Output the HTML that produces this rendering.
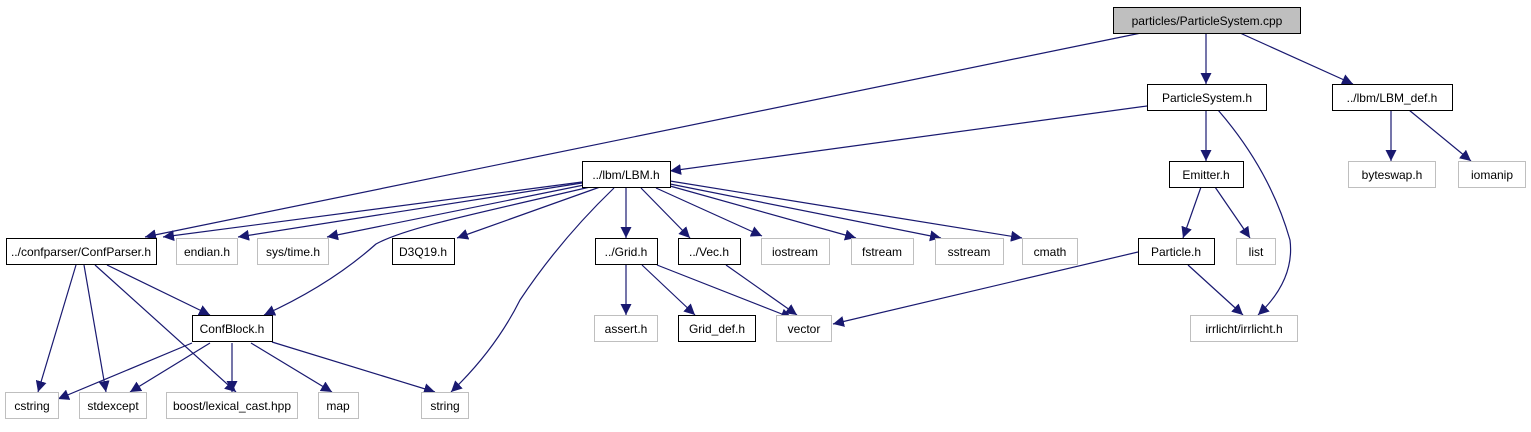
<!DOCTYPE html>
<html><head><meta charset="utf-8"><style>
html,body{margin:0;padding:0;background:#fff;}
svg text{font-family:"Liberation Sans",sans-serif;font-size:12px;text-anchor:middle;}
</style></head><body>
<svg width="1531" height="427" viewBox="0 0 1531 427" xmlns="http://www.w3.org/2000/svg">
<defs><marker id="a" viewBox="0 0 10 10" refX="10" refY="5" markerWidth="11" markerHeight="11" markerUnits="userSpaceOnUse" orient="auto"><path d="M0,0L10,5L0,10z" fill="#191970"/></marker></defs>
<g fill="none" stroke="#191970" stroke-width="1.2" marker-end="url(#a)">
<path d="M1141,33 L145,237"/>
<path d="M1206,33 L1206,84"/>
<path d="M1240,33 L1353,84"/>
<path d="M1147,106 L670,171"/>
<path d="M1206,110 L1206,161"/>
<path d="M1218,110 Q1270,170 1290,240 Q1295,280 1258,315"/>
<path d="M1391,110 L1391,161"/>
<path d="M1409,110 L1471,161"/>
<path d="M1201,187 L1183,238"/>
<path d="M1215,187 L1250,238"/>
<path d="M582,182 L163,237"/>
<path d="M582,183 L238,237"/>
<path d="M584,185 L327,237"/>
<path d="M590,187 C470,215 405,228 376,244 Q330,285 264,315"/>
<path d="M600,187 L457,238"/>
<path d="M614,188 Q560,240 520,300 Q495,350 451,392"/>
<path d="M626,188 L626,238"/>
<path d="M641,188 L690,238"/>
<path d="M656,188 L762,236"/>
<path d="M670,186 L856,238"/>
<path d="M670,184 L941,238"/>
<path d="M670,181 L1022,238"/>
<path d="M1138,252 L833,324"/>
<path d="M1188,265 L1243,315"/>
<path d="M626,265 L626,315"/>
<path d="M642,265 L695,315"/>
<path d="M657,265 L792,318"/>
<path d="M726,265 L797,315"/>
<path d="M76,265 L38,392"/>
<path d="M84,265 L106,392"/>
<path d="M95,265 L236,392"/>
<path d="M107,265 L210,315"/>
<path d="M192,343 L58,399"/>
<path d="M210,343 L130,392"/>
<path d="M232,343 L232,392"/>
<path d="M251,343 L332,392"/>
<path d="M272,342 L435,392"/>
</g>
<g stroke-width="1">
<rect x="1113.5" y="7.5" width="187" height="26" fill="#bfbfbf" stroke="#000"/><text x="1207" y="25">particles/ParticleSystem.cpp</text>
<rect x="1147.5" y="84.5" width="119" height="26" fill="#fff" stroke="#000"/><text x="1207" y="102">ParticleSystem.h</text>
<rect x="1332.5" y="84.5" width="120" height="26" fill="#fff" stroke="#000"/><text x="1392" y="102">../lbm/LBM_def.h</text>
<rect x="1169.5" y="161.5" width="74" height="26" fill="#fff" stroke="#000"/><text x="1206" y="179">Emitter.h</text>
<rect x="1348.5" y="161.5" width="87" height="26" fill="#fff" stroke="#bfbfbf"/><text x="1392" y="179">byteswap.h</text>
<rect x="1458.5" y="161.5" width="67" height="26" fill="#fff" stroke="#bfbfbf"/><text x="1492" y="179">iomanip</text>
<rect x="582.5" y="161.5" width="88" height="26" fill="#fff" stroke="#000"/><text x="626" y="179">../lbm/LBM.h</text>
<rect x="6.5" y="238.5" width="150" height="26" fill="#fff" stroke="#000"/><text x="81" y="256">../confparser/ConfParser.h</text>
<rect x="176.5" y="238.5" width="61" height="26" fill="#fff" stroke="#bfbfbf"/><text x="207" y="256">endian.h</text>
<rect x="257.5" y="238.5" width="71" height="26" fill="#fff" stroke="#bfbfbf"/><text x="293" y="256">sys/time.h</text>
<rect x="392.5" y="238.5" width="62" height="26" fill="#fff" stroke="#000"/><text x="423" y="256">D3Q19.h</text>
<rect x="595.5" y="238.5" width="62" height="26" fill="#fff" stroke="#000"/><text x="626" y="256">../Grid.h</text>
<rect x="678.5" y="238.5" width="62" height="26" fill="#fff" stroke="#000"/><text x="709" y="256">../Vec.h</text>
<rect x="761.5" y="238.5" width="68" height="26" fill="#fff" stroke="#bfbfbf"/><text x="795" y="256">iostream</text>
<rect x="851.5" y="238.5" width="62" height="26" fill="#fff" stroke="#bfbfbf"/><text x="882" y="256">fstream</text>
<rect x="935.5" y="238.5" width="68" height="26" fill="#fff" stroke="#bfbfbf"/><text x="969" y="256">sstream</text>
<rect x="1022.5" y="238.5" width="55" height="26" fill="#fff" stroke="#bfbfbf"/><text x="1050" y="256">cmath</text>
<rect x="1138.5" y="238.5" width="76" height="26" fill="#fff" stroke="#000"/><text x="1176" y="256">Particle.h</text>
<rect x="1236.5" y="238.5" width="39" height="26" fill="#fff" stroke="#bfbfbf"/><text x="1256" y="256">list</text>
<rect x="192.5" y="315.5" width="80" height="26" fill="#fff" stroke="#000"/><text x="232" y="333">ConfBlock.h</text>
<rect x="594.5" y="315.5" width="63" height="26" fill="#fff" stroke="#bfbfbf"/><text x="626" y="333">assert.h</text>
<rect x="678.5" y="315.5" width="77" height="26" fill="#fff" stroke="#000"/><text x="717" y="333">Grid_def.h</text>
<rect x="776.5" y="315.5" width="55" height="26" fill="#fff" stroke="#bfbfbf"/><text x="804" y="333">vector</text>
<rect x="1190.5" y="315.5" width="107" height="26" fill="#fff" stroke="#bfbfbf"/><text x="1244" y="333">irrlicht/irrlicht.h</text>
<rect x="5.5" y="392.5" width="53" height="26" fill="#fff" stroke="#bfbfbf"/><text x="32" y="410">cstring</text>
<rect x="79.5" y="392.5" width="67" height="26" fill="#fff" stroke="#bfbfbf"/><text x="113" y="410">stdexcept</text>
<rect x="166.5" y="392.5" width="131" height="26" fill="#fff" stroke="#bfbfbf"/><text x="232" y="410">boost/lexical_cast.hpp</text>
<rect x="318.5" y="392.5" width="40" height="26" fill="#fff" stroke="#bfbfbf"/><text x="338" y="410">map</text>
<rect x="421.5" y="392.5" width="47" height="26" fill="#fff" stroke="#bfbfbf"/><text x="445" y="410">string</text>
</g>
</svg>
</body></html>
